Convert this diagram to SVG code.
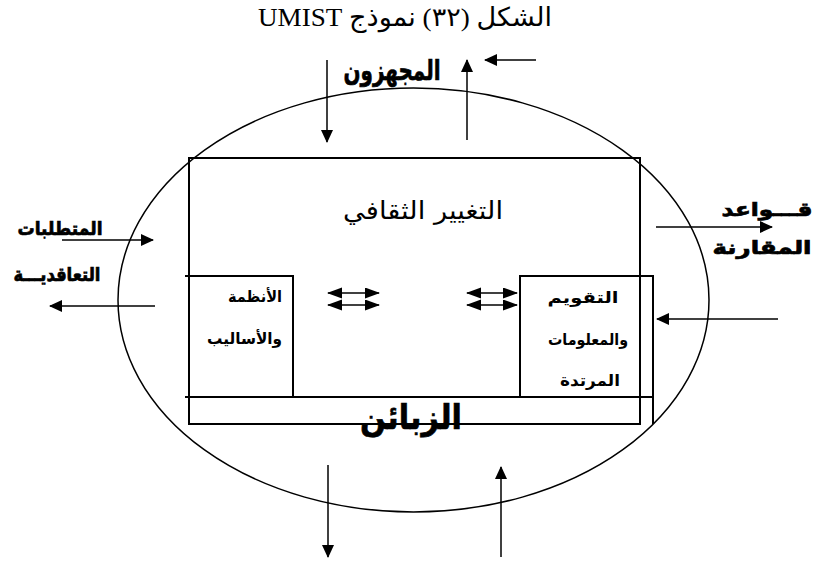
<svg xmlns="http://www.w3.org/2000/svg" width="817" height="564" viewBox="0 0 817 564">
<style>
.ln{stroke:#000;stroke-width:1.5;fill:none}
.bx{stroke:#000;stroke-width:2;fill:none}
.ar{stroke:#000;stroke-width:1.5;fill:none;marker-end:url(#ah)}
.dbl{stroke:#000;stroke-width:1.5;fill:none;marker-start:url(#dh);marker-end:url(#dh)}
.t{font-family:"Liberation Serif","DejaVu Serif","DejaVu Sans",serif;fill:#000}
.s{font-family:"DejaVu Sans","Liberation Sans",sans-serif;fill:#000}
.b{font-family:"DejaVu Sans","Liberation Sans",sans-serif;font-weight:bold;fill:#000}
.h{font-family:"DejaVu Sans","Liberation Sans",sans-serif;font-weight:bold;fill:#000;stroke:#000;stroke-width:0.7}
</style>
<defs>
<marker id="ah" markerUnits="userSpaceOnUse" markerWidth="14" markerHeight="12" refX="12" refY="6" orient="auto">
<path d="M0,0 L13,6 L0,12 Z" fill="#000"/>
</marker>
<marker id="dh" markerUnits="userSpaceOnUse" markerWidth="16" markerHeight="12" refX="14" refY="5.5" orient="auto-start-reverse">
<path d="M0,0 L15,5.5 L0,11 Z" fill="#000"/>
</marker>
</defs>
<rect width="817" height="564" fill="#fff"/>
<text class="t" x="405" y="26" font-size="26" text-anchor="middle" direction="rtl" textLength="294" lengthAdjust="spacingAndGlyphs">الشكل (٣٢) نموذج UMIST</text>
<g id="boundary"><ellipse class="ln" cx="413.5" cy="300" rx="295.5" ry="212"/></g>
<g id="culture"><rect class="bx" x="189" y="158" width="451" height="266"/>
<text class="s" x="423" y="219" font-size="25" text-anchor="middle" direction="rtl" textLength="160" lengthAdjust="spacingAndGlyphs">التغيير الثقافي</text></g>
<g id="systems"><path class="bx" d="M185,276 H293 V397"/>
<text class="b" x="282" y="302" font-size="16" text-anchor="start" direction="rtl" textLength="54" lengthAdjust="spacingAndGlyphs">الأنظمة</text>
<text class="b" x="282" y="344" font-size="16" text-anchor="start" direction="rtl" textLength="75" lengthAdjust="spacingAndGlyphs">والأساليب</text></g>
<g id="evaluation"><path class="bx" d="M520,397 V276 H653 V424"/>
<text class="b" x="583" y="303" font-size="16" text-anchor="middle" direction="rtl" textLength="71" lengthAdjust="spacingAndGlyphs">التقويم</text>
<text class="b" x="588" y="345" font-size="16" text-anchor="middle" direction="rtl" textLength="80" lengthAdjust="spacingAndGlyphs">والمعلومات</text>
<text class="b" x="590" y="386" font-size="16" text-anchor="middle" direction="rtl" textLength="60" lengthAdjust="spacingAndGlyphs">المرتدة</text></g>
<g id="customers"><path class="bx" d="M185,397 H653"/>
<text class="h" x="411" y="429" font-size="34" text-anchor="middle" direction="rtl" textLength="102" lengthAdjust="spacingAndGlyphs">الزبائن</text></g>
<g id="suppliers"><text class="h" x="392" y="80" font-size="28" text-anchor="middle" direction="rtl" textLength="97" lengthAdjust="spacingAndGlyphs">المجهزون</text></g>
<g id="contracts"><text class="h" x="60" y="235" font-size="19" text-anchor="middle" direction="rtl" textLength="85" lengthAdjust="spacingAndGlyphs">المتطلبات</text>
<text class="h" x="57" y="281" font-size="19" text-anchor="middle" direction="rtl" textLength="87" lengthAdjust="spacingAndGlyphs">التعاقديـــة</text></g>
<g id="benchmark"><text class="h" x="767" y="216" font-size="19" text-anchor="middle" direction="rtl" textLength="91" lengthAdjust="spacingAndGlyphs">قـــواعد</text>
<text class="h" x="762" y="254" font-size="19" text-anchor="middle" direction="rtl" textLength="99" lengthAdjust="spacingAndGlyphs">المقارنة</text></g>
<g id="connectors">
<path class="ar" d="M327,60 V142"/>
<path class="ar" d="M467,140 V60"/>
<path class="ar" d="M536,60 H485"/>
<path class="ar" d="M62,240 H153"/>
<path class="ar" d="M155,306 H50"/>
<path class="ar" d="M656,227 H772"/>
<path class="ar" d="M778,319 H657"/>
<path class="ar" d="M328,465 V557"/>
<path class="ar" d="M501,557 V467"/>
<path class="dbl" d="M328,293 H379"/>
<path class="dbl" d="M328,305 H379"/>
<path class="dbl" d="M467,293 H517"/>
<path class="dbl" d="M467,305 H517"/>
</g>
</svg>
